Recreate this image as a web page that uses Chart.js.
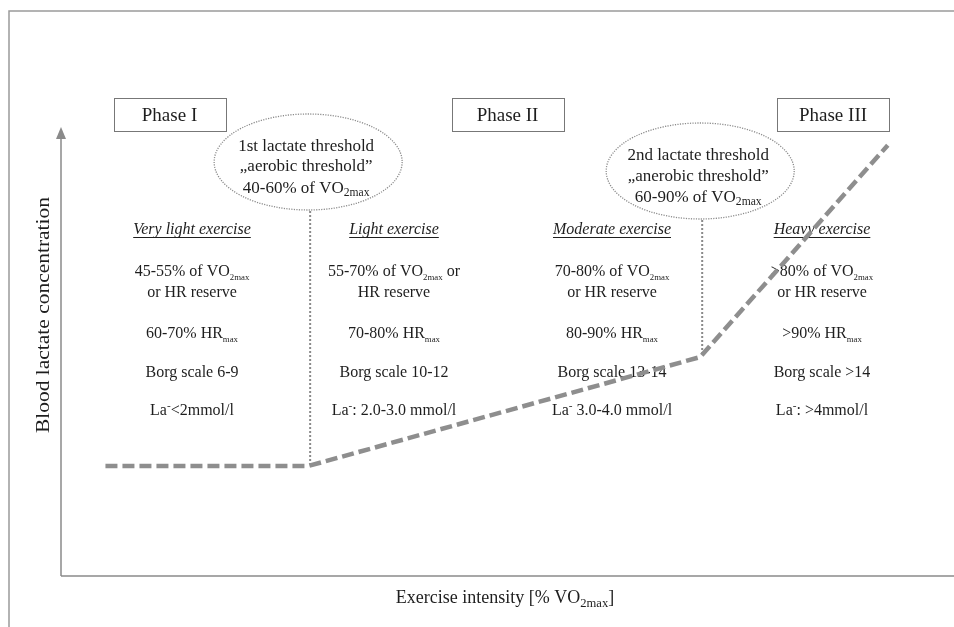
<!DOCTYPE html>
<html>
<head>
<meta charset="utf-8">
<script src="https://cdn.jsdelivr.net/npm/chart.js@4"></script>
<style>
html,body{margin:0;padding:0;background:#fff;}
canvas{display:block;}
</style>
</head>
<body>
<canvas id="c" width="954" height="627"></canvas>
<script>
// ---- data ----
const intensity = [5, 27.8, 71.9, 93];          // x (arbitrary % scale)
const lactate   = [23.1, 23.1, 46, 90.5];       // y (arbitrary scale)
const phaseLabels = ['Phase I', 'Phase II', 'Phase III'];
const threshold1Text = ['1st lactate threshold', '\u201Eaerobic threshold\u201D', '40-60% of VO_{2max}'];
const threshold2Text = ['2nd lactate threshold', '\u201Eanerobic threshold\u201D', '60-90% of VO_{2max}'];
const zoneHeaders = ['Very light exercise', 'Light exercise', 'Moderate exercise', 'Heavy exercise'];
const zoneVO2 = [
  ['45-55% of VO_{2max}', 'or HR reserve'],
  ['55-70% of VO_{2max} or', 'HR reserve'],
  ['70-80% of VO_{2max}', 'or HR reserve'],
  ['>80% of VO_{2max}', 'or HR reserve']
];
const zoneHR = ['60-70% HR_{max}', '70-80% HR_{max}', '80-90% HR_{max}', '>90% HR_{max}'];
const zoneBorg = ['Borg scale 6-9', 'Borg scale 10-12', 'Borg scale 13-14', 'Borg scale >14'];
const zoneLa = ['La^{-}<2mmol/l', 'La^{-}: 2.0-3.0 mmol/l', 'La^{-} 3.0-4.0 mmol/l', 'La^{-}: >4mmol/l'];
const xAxisTitle = 'Exercise intensity [% VO_{2max}]';
const yAxisTitle = 'Blood lactate concentration';

// ---- helpers ----
const SERIF = '"Liberation Serif", "Times New Roman", serif';
const TXT = '#1e1e1e';

function parseRich(str) {
  const segs = [];
  const re = /([_^])\{([^}]*)\}/g;
  let last = 0, m;
  while ((m = re.exec(str)) !== null) {
    if (m.index > last) segs.push({t: str.slice(last, m.index), k: 'n'});
    segs.push({t: m[2], k: m[1] === '_' ? 's' : 'p'});
    last = re.lastIndex;
  }
  if (last < str.length) segs.push({t: str.slice(last), k: 'n'});
  return segs;
}
function fontFor(k, size, style, subScale) {
  const s = k === 'n' ? size : size * subScale;
  return (style ? style + ' ' : '') + s.toFixed(1) + 'px ' + SERIF;
}
function drawRich(ctx, str, cx, cy, size, opt) {
  opt = opt || {};
  const style = opt.style || '';
  const subScale = opt.subScale || 0.62;
  const segs = parseRich(str);
  let w = 0;
  segs.forEach(s => { ctx.font = fontFor(s.k, size, style, subScale); s.w = ctx.measureText(s.t).width; w += s.w; });
  let x = cx - w / 2;
  ctx.textBaseline = 'alphabetic';
  ctx.textAlign = 'left';
  ctx.fillStyle = opt.color || TXT;
  const base = cy + size * 0.33;
  segs.forEach(s => {
    ctx.font = fontFor(s.k, size, style, subScale);
    let y = base;
    if (s.k === 's') y = base + size * 0.22;
    if (s.k === 'p') y = base - size * 0.38;
    ctx.fillText(s.t, x, y);
    x += s.w;
  });
  if (opt.underline) {
    ctx.strokeStyle = opt.color || TXT;
    ctx.lineWidth = 1;
    ctx.setLineDash([]);
    ctx.beginPath();
    ctx.moveTo(cx - w / 2, Math.round(base + 3) + 0.5);
    ctx.lineTo(cx + w / 2, Math.round(base + 3) + 0.5);
    ctx.stroke();
  }
  return w;
}

const diagramPlugin = {
  id: 'diagram',
  beforeDatasetsDraw(chart) {
    const ctx = chart.ctx;
    const xs = chart.scales.x, ys = chart.scales.y;
    const area = chart.chartArea;
    ctx.save();

    // outer frame (top and left)
    ctx.strokeStyle = '#9a9a9a';
    ctx.lineWidth = 1.5;
    ctx.setLineDash([]);
    ctx.beginPath();
    ctx.moveTo(9, 627); ctx.lineTo(9, 11); ctx.lineTo(954, 11);
    ctx.stroke();

    // axes
    ctx.strokeStyle = '#8a8a8a';
    ctx.lineWidth = 1.5;
    ctx.beginPath();
    ctx.moveTo(area.left, area.bottom); ctx.lineTo(954, area.bottom);
    ctx.moveTo(area.left, area.bottom); ctx.lineTo(area.left, 136);
    ctx.stroke();
    ctx.fillStyle = '#8a8a8a';
    ctx.beginPath();
    ctx.moveTo(area.left, 127); ctx.lineTo(area.left - 5, 139); ctx.lineTo(area.left + 5, 139);
    ctx.closePath(); ctx.fill();

    // axis titles
    drawRich(ctx, xAxisTitle, 505, 597, 18, {subScale: 0.7});
    ctx.save();
    ctx.translate(44, 315);
    ctx.rotate(-Math.PI / 2);
    ctx.font = '18px ' + SERIF;
    const yw = ctx.measureText(yAxisTitle).width;
    ctx.scale(236 / yw, 1);
    ctx.fillStyle = TXT;
    ctx.textAlign = 'center';
    ctx.textBaseline = 'middle';
    ctx.fillText(yAxisTitle, 0, 0);
    ctx.restore();

    // phase boxes
    const boxCenters = [169.5, 507.5, 833];
    phaseLabels.forEach((p, i) => {
      ctx.fillStyle = '#fff';
      ctx.fillRect(boxCenters[i] - 56, 98, 112, 33);
      ctx.strokeStyle = '#777';
      ctx.lineWidth = 1;
      ctx.setLineDash([]);
      ctx.strokeRect(Math.round(boxCenters[i] - 56) + 0.5, 98.5, 112, 33);
      drawRich(ctx, p, boxCenters[i], 115, 19);
    });

    // threshold ellipses + dotted verticals (at curve breakpoints)
    const ell = [
      {i: 1, cy: 162, text: threshold1Text, rows: [145, 165, 187]},
      {i: 2, cy: 171, text: threshold2Text, rows: [154, 175, 196]}
    ];
    ell.forEach(e => {
      const px = xs.getPixelForValue(intensity[e.i]);
      const py = ys.getPixelForValue(lactate[e.i]);
      // dotted vertical
      ctx.strokeStyle = '#8a8a8a';
      ctx.lineWidth = 2;
      ctx.setLineDash([2, 2]);
      ctx.beginPath();
      ctx.moveTo(px + 2, e.cy + 49); ctx.lineTo(px + 2, py - 2);
      ctx.stroke();
      // ellipse
      ctx.fillStyle = '#fff';
      ctx.beginPath();
      ctx.ellipse(px, e.cy, 94, 48, 0, 0, Math.PI * 2);
      ctx.fill();
      ctx.strokeStyle = '#8c8c8c';
      ctx.lineWidth = 1.3;
      ctx.setLineDash([1.2, 1.3]);
      ctx.stroke();
      ctx.setLineDash([]);
      e.text.forEach((t, k) => drawRich(ctx, t, px - 2, e.rows[k], 17, {subScale: 0.68}));
    });

    // zone columns
    const colX = [192, 394, 612, 822];
    colX.forEach((cx, i) => {
      drawRich(ctx, zoneHeaders[i], cx, 229, 16, {style: 'italic', underline: true});
      drawRich(ctx, zoneVO2[i][0], cx, 271, 16, {subScale: 0.55});
      drawRich(ctx, zoneVO2[i][1], cx, 292, 16);
      drawRich(ctx, zoneHR[i], cx, 333, 16, {subScale: 0.55});
      drawRich(ctx, zoneBorg[i], cx, 372, 16);
      drawRich(ctx, zoneLa[i], cx, 410, 16, {subScale: 0.7});
    });

    ctx.restore();
  }
};

new Chart(document.getElementById('c'), {
  type: 'scatter',
  data: {
    datasets: [{
      data: intensity.map((x, i) => ({x: x, y: lactate[i]})),
      showLine: true,
      borderColor: '#8e8e8e',
      borderWidth: 4.5,
      borderDash: [12, 5],
      pointRadius: 0,
      tension: 0,
      fill: false,
      clip: false
    }]
  },
  options: {
    responsive: false,
    devicePixelRatio: 1,
    animation: false,
    layout: {padding: {left: 61, right: 4, top: 100, bottom: 51}},
    plugins: {legend: {display: false}, tooltip: {enabled: false}},
    scales: {
      x: {type: 'linear', min: 0, max: 100, display: false},
      y: {type: 'linear', min: 0, max: 100, display: false}
    }
  },
  plugins: [{
    id: 'bg',
    beforeDraw(chart) {
      const c = chart.ctx; c.save(); c.fillStyle = '#fff'; c.fillRect(0, 0, chart.width, chart.height); c.restore();
    }
  }, diagramPlugin]
});
</script>
</body>
</html>
